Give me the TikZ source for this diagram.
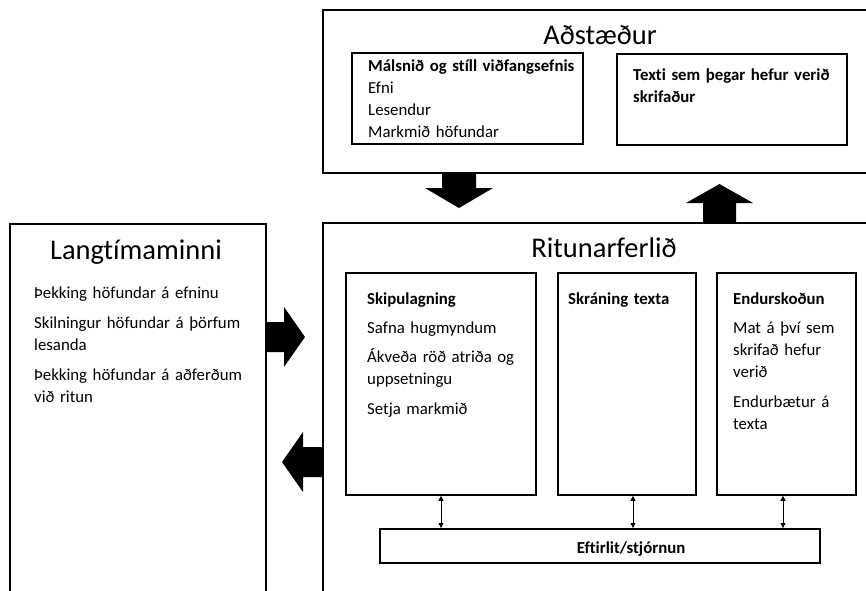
\documentclass[tikz,border=0pt]{standalone}
\usepackage{fontspec}
\setmainfont{Carlito}[Ligatures=NoCommon]
\usetikzlibrary{arrows.meta}
\begin{document}
\begin{tikzpicture}[x=1pt,y=-1pt,
  frame/.style={draw=black, line width=1.8pt, inner sep=0pt, anchor=north west},
  ttl/.style={font=\fontsize{28.5}{34}\selectfont, inner sep=0pt, anchor=base},
  body/.style={font=\fontsize{16.8}{22}\selectfont, inner sep=0pt, anchor=base west, align=left, text width=260pt},
  hd/.style={font=\fontsize{16.8}{22}\selectfont\bfseries, inner sep=0pt},
  blk/.style={fill=black, draw=none},
  dbl/.style={{Triangle[length=5pt,width=5pt]}-{Triangle[length=5pt,width=5pt]}, line width=0.8pt}
]
\useasboundingbox (0,0) rectangle (866,590);
\clip (0,0) rectangle (866,590);

% block arrows
\fill[blk] (442,172) -- (476,172) -- (476,188) -- (493,188) -- (459,208) -- (425,188) -- (442,188) -- cycle;
\fill[blk] (703,222) -- (736,222) -- (736,203) -- (753,203) -- (719.5,184) -- (686,203) -- (703,203) -- cycle;
\fill[blk] (265,322) -- (284,322) -- (284,307) -- (305,337) -- (284,367) -- (284,352) -- (265,352) -- cycle;
\fill[blk] (322,447) -- (303,447) -- (303,432) -- (282,462) -- (303,492) -- (303,477) -- (322,477) -- cycle;

% outer frames
\node[frame, minimum width=560pt, minimum height=163pt] (adst) at (322,9) {};
\node[frame, minimum width=256pt, minimum height=400pt] (lang) at (9,223) {};
\node[frame, minimum width=560pt, minimum height=400pt] (rit) at (322,222) {};

% inner boxes
\node[frame, minimum width=231pt, minimum height=91pt] (ms) at (351,52) {};
\node[frame, minimum width=230pt, minimum height=91pt] (tx) at (616,53) {};
\node[frame, minimum width=190pt, minimum height=222pt] (sk) at (345,272) {};
\node[frame, minimum width=138pt, minimum height=222pt] (skr) at (557,272) {};
\node[frame, minimum width=139pt, minimum height=222pt] (end) at (716,272) {};
\node[frame, minimum width=440pt, minimum height=34pt] (eft) at (379,528) {};

% titles
\node[ttl] (tadst) at (600,44) {Aðstæður};
\node[ttl] (tlang) at (136,259) {Langtímaminni};
\node[ttl] (trit) at (604,257) {Ritunarferlið};

% texts
\node[body] (tms) at (368,71) {{\bfseries Málsnið og stíll viðfangsefnis}\\Efni\\Lesendur\\Markmið höfundar};
\node[body] (ttx) at (633,80) {\bfseries Texti sem þegar hefur verið\\skrifaður};
\node[body] (tlangx) at (34,298) {Þekking höfundar á efninu\\[8pt]Skilningur höfundar á þörfum\\lesanda\\[8pt]Þekking höfundar á aðferðum\\við ritun};
\node[body] (tsk) at (367,304) {{\bfseries Skipulagning}\\[7pt]Safna hugmyndum\\[7pt]Ákveða röð atriða og\\uppsetningu\\[8pt]Setja markmið};
\node[body] (tskr) at (568,304) {\bfseries Skráning texta};
\node[body] (tend) at (733,304) {{\bfseries Endurskoðun}\\[7pt]Mat á því sem\\skrifað hefur\\verið\\[8pt]Endurbætur á\\texta};
\node[hd, anchor=base] (teft) at (631,553) {Eftirlit/stjórnun};

% control arrows
\draw[dbl] (441,0 |- sk.south) -- (441,0 |- eft.north);
\draw[dbl] (633,0 |- skr.south) -- (633,0 |- eft.north);
\draw[dbl] (783,0 |- end.south) -- (783,0 |- eft.north);
\end{tikzpicture}
\end{document}
